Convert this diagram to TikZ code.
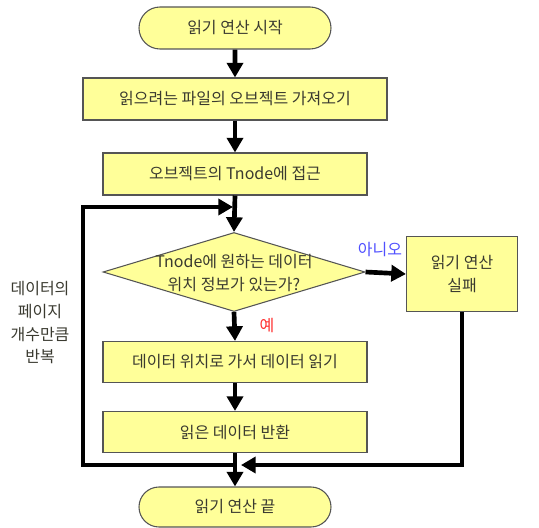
\documentclass[tikz,border=0pt]{standalone}
\usepackage{fontspec}
\setmainfont{Noto Sans CJK KR}
\usetikzlibrary{shapes.misc,shapes.geometric,arrows.meta}
\definecolor{boxfill}{HTML}{FFFF99}
\definecolor{boxline}{HTML}{555555}
\definecolor{txt}{HTML}{3A3A30}
\definecolor{noblue}{HTML}{4F4FFF}
\definecolor{yesred}{HTML}{FF3030}
\tikzset{
  proc/.style={draw=boxline, line width=0.8pt, fill=boxfill, text=txt,
    minimum height=31.5pt, inner sep=0pt, align=center,
    font=\fontsize{12}{17}\selectfont},
  term/.style={proc, rounded rectangle},
  decision/.style={draw=boxline, line width=0.8pt, fill=boxfill, diamond,
    inner sep=0pt, minimum width=196.5pt, minimum height=59.25pt},
  flow/.style={line width=3.5pt, -{Triangle[length=11pt,width=12pt]}},
  plain/.style={line width=3.5pt},
  lbl/.style={font=\fontsize{12}{17}\selectfont, inner sep=0pt}
}
\begin{document}
\begin{tikzpicture}[x=0.75pt,y=-0.75pt]
  \useasboundingbox (0,0) rectangle (539,528);

  % steps of the read operation
  \node[term, minimum width=144pt]            (start) at (235,28)  {읽기 연산 시작};
  \node[proc, minimum width=228pt]            (fetch) at (235,99)  {읽으려는 파일의 오브젝트 가져오기};
  \node[proc, minimum width=198pt]            (tnode) at (235,174) {오브젝트의 Tnode에 접근};
  \node[decision]                             (ask)   at (234,272) {};
  \node[lbl, text=txt, align=center]          (asktx) at (234,273) {Tnode에 원하는 데이터\\위치 정보가 있는가?};
  \node[proc, minimum width=83.25pt, minimum height=56.25pt] (fail) at (462,274) {읽기 연산\\실패};
  \node[proc, minimum width=198pt, minimum height=30.75pt]   (read) at (235,362) {데이터 위치로 가서 데이터 읽기};
  \node[proc, minimum width=198pt, minimum height=30.75pt]   (ret)  at (235,432) {읽은 데이터 반환};
  \node[term, minimum width=144pt, minimum height=30pt]      (stop) at (235,507) {읽기 연산 끝};

  % branch labels
  \node[lbl, text=noblue] (no)  at (380,250) {아니오};
  \node[lbl, text=yesred] (yes) at (267,326) {예};
  \node[lbl, text=txt, align=center] (loop) at (40,323) {데이터의\\페이지\\개수만큼\\반복};

  % loop junctions
  \coordinate (jb) at (235,465);
  \coordinate (jr) at (241,465);
  \coordinate (lb) at (83,465);
  \coordinate (lt) at (83,207);
  \coordinate (jt) at (233,207);

  % main flow
  \draw[flow] (start) -- (fetch);
  \draw[flow] (fetch) -- (tnode);
  \draw[flow] (tnode.south) -- (ask.north);
  \draw[flow] (ask.south) -- (read.north);
  \draw[flow] (ask.east) -- (fail.west);
  \draw[flow] (read) -- (ret);
  \draw[flow] (ret.south) -- (stop.north);

  % repeat loop and failure path
  \draw[plain, line join=miter] (jb) -- (lb) -- (lt) -- ++(120,0);
  \draw[flow] (lt) -- (jt);
  \draw[plain, line join=miter] (fail.south) -- (fail.south |- jb) -- (300,465);
  \draw[flow] (300,465) -- (jr);
\end{tikzpicture}
\end{document}
